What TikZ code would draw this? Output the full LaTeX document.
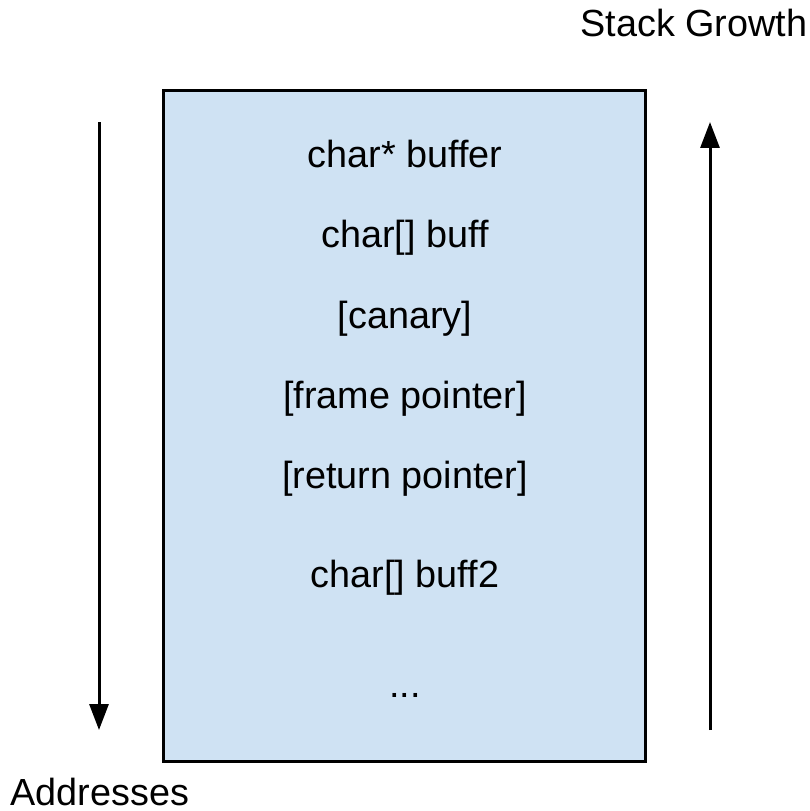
\documentclass[tikz,border=0pt]{standalone}
\usepackage{fontspec}
\setmainfont{Liberation Sans}
\usetikzlibrary{arrows.meta}
\definecolor{stackblue}{HTML}{CFE2F3}

\begin{document}
\begin{tikzpicture}[x=0.02cm, y=-0.02cm, every node/.style={font=\fontsize{21.5}{25}\selectfont, inner sep=0pt},
        frame/.style={draw=black, fill=stackblue, line width=0.06cm, minimum width=9.66cm, minimum height=13.44cm},
        slot/.style={anchor=base},
        growth/.style={line width=0.06cm, -{Triangle[length=0.52cm, width=0.38cm]}}]
        \useasboundingbox (0,0) rectangle (810,811);
        % stack frame
        \node[frame] (stack) at (404.5,426) {};
        \node[slot] (charptr) at (405,167) {char* buffer};
        \node[slot] (buff) at (405,247) {char[] buff};
        \node[slot] (canary) at (405,328) {[canary]};
        \node[slot] (fp) at (405,408) {[frame pointer]};
        \node[slot] (rp) at (405,488) {[return pointer]};
        \node[slot] (buff2) at (405,587) {char[] buff2};
        \node[slot] (more) at (405,697) {...};

        % labels
        \node[slot] (growthlbl) at (694,37) {Stack Growth};
        \node[slot] (addrlbl) at (100,805) {Addresses};

        % arrows
        \coordinate (addrtop) at (99,122);
        \coordinate (addrbot) at (99,730);
        \coordinate (growbot) at (710,730);
        \coordinate (growtop) at (710,122);
        \draw[growth] (addrtop) -- (addrbot);
        \draw[growth] (growbot) -- (growtop);
    \end{tikzpicture}
\end{document}
